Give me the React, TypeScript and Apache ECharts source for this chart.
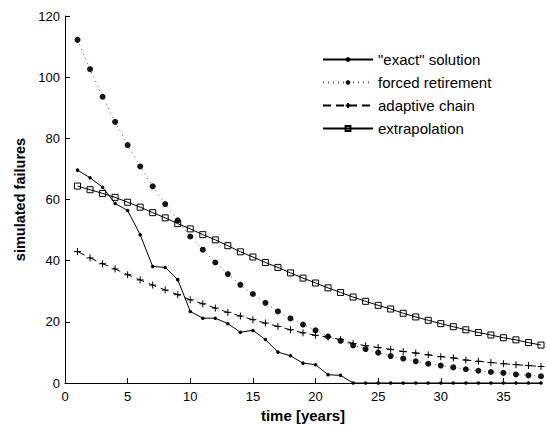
import React, { useEffect, useRef } from "react";
import * as echarts from "echarts";

const years = [1,2,3,4,5,6,7,8,9,10,11,12,13,14,15,16,17,18,19,20,21,22,23,24,25,26,27,28,29,30,31,32,33,34,35,36,37,38];

const exactSolution = [69.6,67.1,64.0,58.7,56.4,48.5,38.1,37.8,33.8,23.4,21.2,21.2,19.4,16.6,17.2,14.2,10.1,8.9,6.5,6.0,2.7,2.5,0,0,0,0,0,0,0,0,0,0,0,0,0,0,0,0];

const forcedRetirement = [112.2,102.6,93.6,85.4,77.8,70.8,64.3,58.5,53.2,47.9,43.6,39.4,35.6,32.1,29.1,26.2,23.4,21.1,19.1,17.2,15.2,13.8,12.3,11.1,9.9,8.8,8.0,7.1,6.3,5.7,5.1,4.5,4.0,3.6,3.3,2.8,2.5,2.2];

const adaptiveChain = [43.0,40.9,39.0,37.3,35.4,33.7,32.0,30.4,28.9,27.2,25.9,24.5,23.1,21.9,20.7,19.6,18.5,17.4,16.4,15.6,15.0,14.2,12.9,12.2,11.6,11.0,10.3,9.8,9.2,8.6,8.2,7.5,7.1,6.7,6.3,6.0,5.7,5.4];

const extrapolation = [64.4,63.2,62.0,60.7,59.1,57.5,55.7,54.0,52.1,50.4,48.5,46.8,44.9,42.9,41.2,39.4,37.8,36.0,34.3,32.7,31.1,29.6,28.1,26.7,25.4,24.2,22.8,21.6,20.5,19.4,18.4,17.4,16.5,15.7,14.8,14.1,13.2,12.4];

const seriesNames = ['"exact" solution', "forced retirement", "adaptive chain", "extrapolation"];

const pair = (vals: number[]) => years.map((x, i) => [x, vals[i]]);

const FONT = "Liberation Sans, Arial, Helvetica, sans-serif";

export default function App() {
  const ref = useRef<HTMLDivElement>(null);
  useEffect(() => {
    if (!ref.current) return;
    const chart = echarts.init(ref.current, undefined, { renderer: "svg" });
    chart.setOption({
      animation: false,
      backgroundColor: "#fff",
      textStyle: { fontFamily: FONT, color: "#000" },
      grid: { left: 65, right: 6, top: 16, bottom: 45 },
      legend: {
        orient: "vertical",
        left: 317,
        top: 47,
        itemWidth: 50,
        itemHeight: 6,
        itemGap: 8,
        textStyle: { fontFamily: FONT, fontSize: 15, color: "#000" },
        data: seriesNames,
      },
      xAxis: {
        type: "value",
        min: 0,
        max: 38,
        interval: 5,
        name: "time [years]",
        nameLocation: "middle",
        nameGap: 24,
        nameTextStyle: { fontFamily: FONT, fontSize: 15, fontWeight: "bold", color: "#000" },
        axisLine: { show: true, lineStyle: { color: "#000", width: 1 } },
        axisTick: { show: true, inside: true, length: 5, lineStyle: { color: "#000" } },
        axisLabel: { fontFamily: FONT, fontSize: 13, color: "#000", margin: 7, showMaxLabel: false },
        splitLine: { show: false },
      },
      yAxis: {
        type: "value",
        min: 0,
        max: 120,
        interval: 20,
        name: "simulated failures",
        nameLocation: "middle",
        nameGap: 32,
        nameTextStyle: { fontFamily: FONT, fontSize: 14.5, fontWeight: "bold", color: "#000" },
        axisLine: { show: true, lineStyle: { color: "#000", width: 1 } },
        axisTick: { show: true, inside: true, length: 5, lineStyle: { color: "#000" } },
        axisLabel: { fontFamily: FONT, fontSize: 13, color: "#000", margin: 5 },
        splitLine: { show: false },
      },
      series: [
        {
          name: seriesNames[0],
          type: "line",
          data: pair(exactSolution),
          symbol: "circle",
          symbolSize: 3.5,
          itemStyle: { color: "#000" },
          lineStyle: { color: "#000", width: 1 },
        },
        {
          name: seriesNames[1],
          type: "line",
          data: pair(forcedRetirement),
          symbol: "circle",
          symbolSize: 6,
          itemStyle: { color: "#151515" },
          lineStyle: { color: "#555", width: 1, type: [1, 4] },
        },
        {
          name: seriesNames[2],
          type: "line",
          data: pair(adaptiveChain),
          symbol: "path://M0,-4 L0,4 M-4,0 L4,0",
          symbolSize: 7,
          itemStyle: { color: "#000", borderColor: "#000", borderWidth: 1 },
          lineStyle: { color: "#000", width: 1, type: [8, 5] },
        },
        {
          name: seriesNames[3],
          type: "line",
          data: pair(extrapolation),
          symbol: "rect",
          symbolSize: 6,
          itemStyle: { color: "rgba(255,255,255,0)", borderColor: "#000", borderWidth: 1 },
          lineStyle: { color: "#000", width: 1 },
        },
      ],
    });
    return () => chart.dispose();
  }, []);
  return <div ref={ref} style={{ position: "absolute", left: 0, top: 0, width: 547, height: 428 }} />;
}
